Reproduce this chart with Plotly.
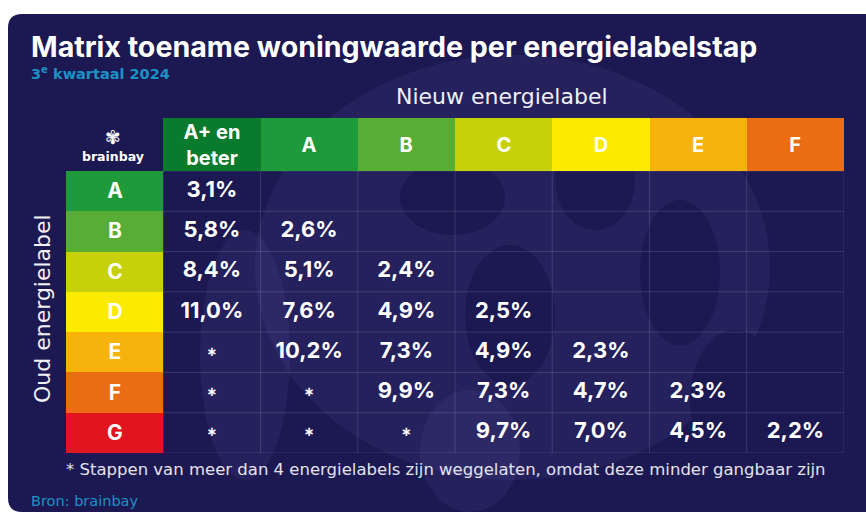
import plotly.graph_objects as go

# ---------------- data ----------------
new_labels = ["A+ en beter", "A", "B", "C", "D", "E", "F"]
header_text = ["A+ en<br>beter", "A", "B", "C", "D", "E", "F"]
old_labels = ["A", "B", "C", "D", "E", "F", "G"]

row_A = [3.1, None, None, None, None, None, None]
row_B = [5.8, 2.6, None, None, None, None, None]
row_C = [8.4, 5.1, 2.4, None, None, None, None]
row_D = [11.0, 7.6, 4.9, 2.5, None, None, None]
row_E = ["*", 10.2, 7.3, 4.9, 2.3, None, None]
row_F = ["*", "*", 9.9, 7.3, 4.7, 2.3, None]
row_G = ["*", "*", "*", 9.7, 7.0, 4.5, 2.2]
rows = [row_A, row_B, row_C, row_D, row_E, row_F, row_G]

label_colors = {
    "A+ en beter": "#0a7a2c",
    "A": "#1f9a3b",
    "B": "#58ae34",
    "C": "#c6d10c",
    "D": "#fcea00",
    "E": "#f8b20c",
    "F": "#ea6d12",
    "G": "#e1141f",
}

title = "Matrix toename woningwaarde per energielabelstap"
subtitle = "3<sup>e</sup> kwartaal 2024"
x_title = "Nieuw energielabel"
y_title = "Oud energielabel"
footnote = "* Stappen van meer dan 4 energielabels zijn weggelaten, omdat deze minder gangbaar zijn"
source = "Bron: brainbay"

# ---------------- layout helpers ----------------
W, H = 866, 513
L, R, T, B = 66, 844, 118, 453
HDR_BOTTOM = 171
NAVY = "#1b1852"
TEAL = "#1b92c4"
FONT = "Inter"
WIDE = "DejaVu Sans"


def px(x):
    return (x - L) / (R - L)


def py(y):
    return (B - y) / (B - T)


order = list(label_colors.keys())
n_col = len(order)


def discrete_scale(colors):
    n = len(colors)
    cs = []
    for i, c in enumerate(colors):
        cs.append([i / n, c])
        cs.append([(i + 1) / n, c])
    return cs


cscale = discrete_scale([label_colors[k] for k in order])
zmax = n_col - 1

x_cats = [" "] + new_labels

fig = go.Figure()

# header row (new label); the corner cell is left empty
fig.add_trace(go.Heatmap(
    x=x_cats, y=["hdr"],
    z=[[None] + [order.index(k) for k in new_labels]],
    text=[[""] + header_text], texttemplate="%{text}",
    textfont=dict(family=FONT, size=20, color="white", weight=700),
    colorscale=cscale, zmin=0, zmax=zmax, showscale=False,
    hoverinfo="skip", xaxis="x", yaxis="y2",
))

# row label column (old label)
fig.add_trace(go.Heatmap(
    x=[" "], y=old_labels,
    z=[[order.index(k)] for k in old_labels],
    text=[[k] for k in old_labels], texttemplate="%{text}",
    textfont=dict(family=FONT, size=21, color="white", weight=700),
    colorscale=cscale, zmin=0, zmax=zmax, showscale=False,
    hoverinfo="skip", xaxis="x", yaxis="y",
))

# values
vx, vy, vt, sx, sy = [], [], [], [], []
for rl, row in zip(old_labels, rows):
    for cl, v in zip(new_labels, row):
        if v is None:
            continue
        if v == "*":
            sx.append(cl)
            sy.append(rl)
        else:
            vx.append(cl)
            vy.append(rl)
            vt.append(f"{v:.1f}".replace(".", ",") + "%")

fig.add_trace(go.Scatter(
    x=vx, y=vy, text=vt, mode="text", textposition="middle center",
    textfont=dict(family=FONT, size=22, color="white", weight=700),
    hoverinfo="skip", xaxis="x", yaxis="y",
))
fig.add_trace(go.Scatter(
    x=sx, y=sy, text=["∗"] * len(sx), mode="text", textposition="middle center",
    textfont=dict(family=WIDE, size=13, color="white", weight=700),
    hoverinfo="skip", xaxis="x", yaxis="y",
))

shapes = []
# white surround with rounded panel (evenodd)
r = 14
P = lambda x, y: f"{px(x):.5f},{py(y):.5f}"
outer = f"M{P(-10,-10)} L{P(W+10,-10)} L{P(W+10,H+10)} L{P(-10,H+10)} Z"
pl, pt, pr, pb = 8, 14, W + 40, 512
inner = (f"M{P(pl+r,pt)} L{P(pr,pt)} L{P(pr,pb)} L{P(pl+r,pb)} "
         f"Q{P(pl,pb)} {P(pl,pb-r)} L{P(pl,pt+r)} Q{P(pl,pt)} {P(pl+r,pt)} Z")
shapes.append(dict(type="path", xref="paper", yref="paper", path=outer + " " + inner,
                   fillrule="evenodd", fillcolor="white", line=dict(width=0), layer="below"))

# faint watermark: lighter blobs, then darker cut-outs
light = "rgba(150,140,230,0.08)"
for (x0, y0, x1, y1) in [(255, 55, 770, 480), (200, 230, 290, 480), (420, 390, 520, 512)]:
    shapes.append(dict(type="circle", xref="paper", yref="paper",
                       x0=px(x0), x1=px(x1), y0=py(y1), y1=py(y0),
                       fillcolor=light, line=dict(width=0), layer="below"))
for (x0, y0, x1, y1) in [(400, 160, 505, 235), (465, 245, 555, 385), (555, 130, 635, 230),
                         (640, 200, 720, 345), (690, 330, 780, 470)]:
    shapes.append(dict(type="circle", xref="paper", yref="paper",
                       x0=px(x0), x1=px(x1), y0=py(y1), y1=py(y0),
                       fillcolor=NAVY, line=dict(width=0), layer="below"))

# grid lines for data region
gcol = "rgba(255,255,255,0.13)"
for i in range(len(x_cats)):
    shapes.append(dict(type="line", xref="x", yref="y", x0=i + 0.5, x1=i + 0.5,
                       y0=-0.5, y1=len(old_labels) - 0.5, line=dict(color=gcol, width=1), layer="below"))
for j in range(len(old_labels) + 1):
    shapes.append(dict(type="line", xref="x", yref="y", x0=-0.5, x1=len(x_cats) - 0.5,
                       y0=j - 0.5, y1=j - 0.5, line=dict(color=gcol, width=1), layer="below"))

annotations = [
    dict(text=title, x=px(29), y=py(47), xref="paper", yref="paper", xanchor="left", yanchor="middle",
         showarrow=False, font=dict(family=FONT, size=28.6, color="white", weight=700)),
    dict(text=subtitle, x=px(29), y=py(73), xref="paper", yref="paper", xanchor="left", yanchor="middle",
         showarrow=False, font=dict(family=WIDE, size=14.5, color=TEAL, weight=700)),
    dict(text=x_title, x=px(502), y=py(97), xref="paper", yref="paper", xanchor="center", yanchor="middle",
         showarrow=False, font=dict(family=WIDE, size=22, color="#f0f0f5")),
    dict(text=y_title, x=px(42), y=py(309), xref="paper", yref="paper", xanchor="center", yanchor="middle",
         textangle=-90, showarrow=False, font=dict(family=WIDE, size=22, color="#f0f0f5")),
    dict(text=footnote, x=px(64), y=py(469), xref="paper", yref="paper", xanchor="left", yanchor="middle",
         showarrow=False, font=dict(family=WIDE, size=16.5, color="#e4e3ee")),
    dict(text=source, x=px(29), y=py(501), xref="paper", yref="paper", xanchor="left", yanchor="middle",
         showarrow=False, font=dict(family=WIDE, size=14.5, color=TEAL)),
    dict(text="✾", x=px(113), y=py(137), xref="paper", yref="paper", xanchor="center", yanchor="middle",
         showarrow=False, font=dict(family=WIDE, size=19, color="white")),
    dict(text="brainbay", x=px(113), y=py(156), xref="paper", yref="paper", xanchor="center", yanchor="middle",
         showarrow=False, font=dict(family=WIDE, size=12.5, color="white", weight=700)),
]

hdr_frac = (HDR_BOTTOM - T) / (B - T)
fig.update_layout(
    width=W, height=H,
    margin=dict(l=L, r=W - R, t=T, b=H - B, pad=0),
    paper_bgcolor=NAVY, plot_bgcolor="rgba(0,0,0,0)",
    showlegend=False,
    shapes=shapes, annotations=annotations,
    xaxis=dict(type="category", categoryorder="array", categoryarray=x_cats,
               range=[-0.5, len(x_cats) - 0.5], showgrid=False, zeroline=False,
               showticklabels=False, ticks="", fixedrange=True),
    yaxis=dict(type="category", categoryorder="array", categoryarray=old_labels,
               range=[len(old_labels) - 0.5, -0.5], domain=[0, 1 - hdr_frac],
               showgrid=False, zeroline=False, showticklabels=False, ticks="", fixedrange=True),
    yaxis2=dict(type="category", range=[-0.5, 0.5], domain=[1 - hdr_frac, 1],
                showgrid=False, zeroline=False, showticklabels=False, ticks="", fixedrange=True),
)

fig.write_html(
    "out.html",
    config={"displayModeBar": False},
    post_script="document.body.style.margin='0';document.body.style.padding='0';document.body.style.overflow='hidden';",
)
